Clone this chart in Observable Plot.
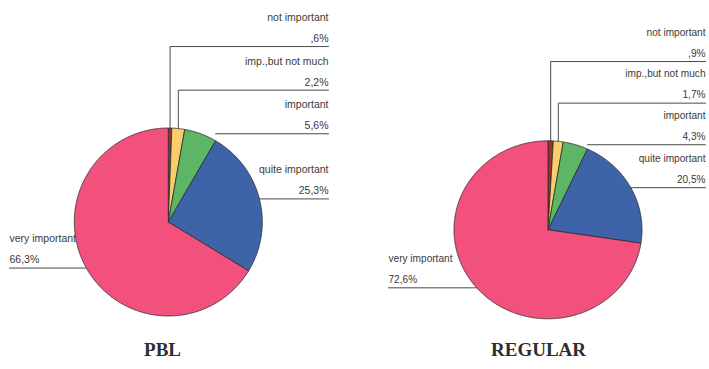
<!DOCTYPE html>
<html>
<head>
<meta charset="utf-8">
<script src="https://cdn.jsdelivr.net/npm/d3@7"></script>
<script src="https://cdn.jsdelivr.net/npm/@observablehq/plot@0.6"></script>
<style>
  html, body { margin: 0; padding: 0; background: #fff; }
</style>
</head>
<body>
<div id="chart"></div>
<script>
// ---- data ----
const categories = ["not important", "imp.,but not much", "important", "quite important", "very important"];
const pblValues = [0.6, 2.2, 5.6, 25.3, 66.3];
const regularValues = [0.9, 1.7, 4.3, 20.5, 72.6];
const pblLabels = [",6%", "2,2%", "5,6%", "25,3%", "66,3%"];
const regularLabels = [",9%", "1,7%", "4,3%", "20,5%", "72,6%"];
const chartTitles = ["PBL", "REGULAR"];
const sliceColors = ["#a0302e", "#f8cd6a", "#5db665", "#3e63a8", "#f2517e"];

// ---- layout ----
const W = 709, H = 369;
const layouts = [
  {cx: 167.8, cy: 221.5, rx: 94, ry: 94, right: 328, left: 9, step: 43.6, fs: 10.5, tx: 162, ty: 349},
  {cx: 547.5, cy: 229.3, rx: 94, ry: 89, right: 705, left: 388, step: 41.6, fs: 10.1, tx: 538, ty: 349}
];
const series = [
  {title: chartTitles[0], values: pblValues, labels: pblLabels},
  {title: chartTitles[1], values: regularValues, labels: regularLabels}
];

const slicePts = [], leaderPts = [], texts = [], titles = [];
series.forEach((s, ci) => {
  const L = layouts[ci];
  const total = d3.sum(s.values);
  const pt = (deg) => {
    const a = deg * Math.PI / 180;
    return [L.cx + L.rx * Math.sin(a), L.cy - L.ry * Math.cos(a)];
  };
  let acc = 0;
  const anchors = [];
  s.values.forEach((v, i) => {
    const a0 = acc / total * 360, a1 = (acc + v) / total * 360;
    acc += v;
    const key = s.title + "|" + categories[i];
    slicePts.push({key, cat: categories[i], x: L.cx, y: L.cy});
    const n = Math.max(2, Math.ceil((a1 - a0) / 0.5));
    for (let j = 0; j <= n; j++) {
      const [x, y] = pt(a0 + (a1 - a0) * j / n);
      slicePts.push({key, cat: categories[i], x, y});
    }
    slicePts.push({key, cat: categories[i], x: L.cx, y: L.cy});
    anchors.push({mid: pt((a0 + a1) / 2), end: pt(a1)});
  });
  const ly = [];
  ly[2] = anchors[2].mid[1];
  ly[1] = ly[2] - L.step;
  ly[0] = ly[2] - 2 * L.step;
  ly[3] = anchors[3].mid[1];
  ly[4] = anchors[4].mid[1];
  s.values.forEach((v, i) => {
    const k = s.title + "|lead" + i;
    const m = anchors[i].mid;
    let path;
    if (i < 2) path = [m, [m[0], ly[i]], [L.right, ly[i]]];
    else if (i === 2) path = [[anchors[i].end[0], ly[i]], [L.right, ly[i]]];
    else if (i === 3) path = [m, [L.right, ly[i]]];
    else path = [[L.left, ly[i]], m];
    path.forEach(([x, y]) => leaderPts.push({key: k, x, y}));
    const anchor = i === 4 ? "start" : "end";
    const tx = i === 4 ? L.left : L.right;
    texts.push({x: tx, y: ly[i] - 29, text: categories[i], anchor, fs: L.fs});
    texts.push({x: tx, y: ly[i] - 8, text: s.labels[i], anchor, fs: L.fs});
  });
  titles.push({x: L.tx, y: L.ty, text: s.title});
});

const labelFont = "Liberation Sans, Arial, sans-serif";
const textMarks = ["start", "end"].map(anchor =>
  Plot.text(texts.filter(d => d.anchor === anchor), {
    x: "x", y: "y", text: "text", textAnchor: anchor,
    fontSize: "fs", fill: "#3a3a3a", fontFamily: labelFont
  })
);

const chart = Plot.plot({
  width: W, height: H,
  margin: 0,
  x: {domain: [0, W], range: [0, W], axis: null},
  y: {domain: [0, H], range: [0, H], axis: null},
  color: {domain: categories, range: sliceColors},
  style: {background: "#fff"},
  marks: [
    Plot.line(slicePts, {x: "x", y: "y", z: "key", fill: "cat", stroke: "#2b2b2b", strokeWidth: 0.8, curve: "linear"}),
    Plot.line(leaderPts, {x: "x", y: "y", z: "key", stroke: "#4a4a4a", strokeWidth: 1}),
    ...textMarks,
    Plot.text(titles, {x: "x", y: "y", text: "text", fontSize: 19, fontWeight: "bold", fill: "#2e2e2e", fontFamily: "Liberation Serif, Times New Roman, serif"})
  ]
});
document.getElementById("chart").appendChild(chart);
</script>
</body>
</html>
